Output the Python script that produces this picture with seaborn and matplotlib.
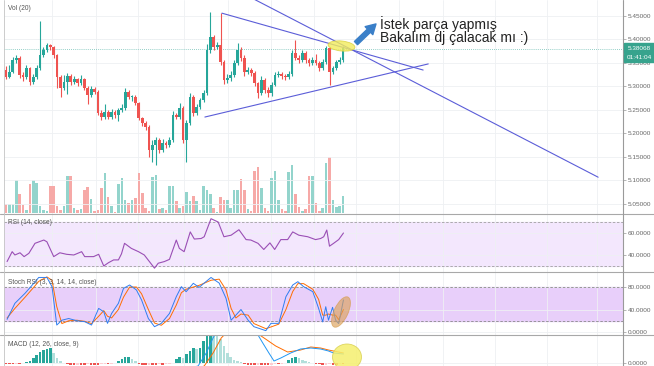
import numpy as np
import pandas as pd
import seaborn as sns
import matplotlib.pyplot as plt
from matplotlib.lines import Line2D
from matplotlib.patches import Ellipse, FancyArrowPatch, Rectangle

# ---- price candles (5 min bars) ----
first_open = 5.335
closes = [5.320, 5.331, 5.356, 5.361, 5.325, 5.320, 5.339, 5.310, 5.320, 5.339,
          5.367, 5.378, 5.388, 5.384, 5.367, 5.320, 5.297, 5.310, 5.322, 5.310,
          5.316, 5.307, 5.316, 5.297, 5.282, 5.295, 5.288, 5.244, 5.235, 5.246,
          5.235, 5.246, 5.239, 5.250, 5.254, 5.288, 5.278, 5.278, 5.265, 5.233,
          5.222, 5.214, 5.165, 5.176, 5.186, 5.165, 5.180, 5.176, 5.186, 5.239,
          5.235, 5.254, 5.186, 5.222, 5.278, 5.244, 5.256, 5.271, 5.286, 5.378,
          5.405, 5.384, 5.388, 5.352, 5.314, 5.318, 5.325, 5.350, 5.378, 5.361,
          5.331, 5.335, 5.329, 5.307, 5.286, 5.314, 5.293, 5.286, 5.303, 5.325,
          5.327, 5.322, 5.320, 5.327, 5.371, 5.361, 5.356, 5.371, 5.356, 5.350,
          5.356, 5.350, 5.339, 5.352, 5.382, 5.331, 5.339, 5.352, 5.356, 5.381]
highs = [5.343, 5.345, 5.362, 5.368, 5.364, 5.330, 5.346, 5.342, 5.326, 5.345,
         5.439, 5.384, 5.392, 5.391, 5.386, 5.370, 5.325, 5.324, 5.328, 5.326,
         5.322, 5.319, 5.325, 5.318, 5.300, 5.301, 5.299, 5.292, 5.250, 5.262,
         5.250, 5.252, 5.250, 5.255, 5.262, 5.297, 5.292, 5.282, 5.281, 5.268,
         5.236, 5.226, 5.218, 5.186, 5.192, 5.190, 5.188, 5.184, 5.192, 5.248,
         5.244, 5.265, 5.258, 5.228, 5.286, 5.281, 5.262, 5.276, 5.292, 5.390,
         5.459, 5.410, 5.395, 5.456, 5.356, 5.326, 5.332, 5.356, 5.392, 5.384,
         5.366, 5.341, 5.340, 5.333, 5.310, 5.322, 5.318, 5.298, 5.310, 5.331,
         5.334, 5.330, 5.326, 5.333, 5.378, 5.399, 5.366, 5.378, 5.375, 5.360,
         5.362, 5.370, 5.354, 5.358, 5.386, 5.385, 5.344, 5.357, 5.362, 5.386]
lows = [5.316, 5.318, 5.329, 5.350, 5.318, 5.312, 5.316, 5.303, 5.306, 5.316,
        5.336, 5.362, 5.374, 5.378, 5.360, 5.296, 5.277, 5.292, 5.285, 5.303,
        5.305, 5.300, 5.303, 5.292, 5.262, 5.278, 5.283, 5.240, 5.228, 5.231,
        5.230, 5.230, 5.233, 5.226, 5.246, 5.250, 5.273, 5.270, 5.260, 5.228,
        5.216, 5.208, 5.150, 5.140, 5.133, 5.158, 5.160, 5.170, 5.172, 5.182,
        5.230, 5.231, 5.180, 5.139, 5.218, 5.238, 5.240, 5.252, 5.266, 5.282,
        5.372, 5.378, 5.380, 5.346, 5.306, 5.308, 5.312, 5.320, 5.346, 5.354,
        5.322, 5.326, 5.322, 5.300, 5.276, 5.282, 5.286, 5.278, 5.280, 5.300,
        5.320, 5.316, 5.314, 5.316, 5.322, 5.356, 5.350, 5.352, 5.350, 5.344,
        5.346, 5.345, 5.333, 5.335, 5.348, 5.303, 5.326, 5.335, 5.348, 5.352]
volumes = [9, 9, 9, 33, 19, 8, 3, 29, 33, 30,
           7, 3, 2, 27, 27, 7, 3, 7, 37, 37,
           5, 3, 4, 23, 26, 14, 2, 3, 25, 40,
           16, 7, 1, 29, 35, 13, 10, 13, 15, 40,
           20, 5, 2, 36, 38, 4, 5, 3, 27, 27,
           12, 5, 7, 21, 12, 17, 12, 3, 27, 23,
           19, 5, 1, 16, 13, 13, 5, 23, 23, 34,
           23, 4, 2, 42, 46, 25, 5, 2, 35, 42,
           13, 4, 2, 41, 48, 19, 6, 2, 4, 37,
           37, 10, 2, 5, 50, 56, 13, 6, 7, 17]
last_price = 5.38068
price_ticks = [5.05, 5.10, 5.15, 5.20, 5.25, 5.30, 5.35, 5.40, 5.45]

# ---- RSI (14, close) ----
rsi_x = [0.3, 1.8, 2.6, 4.1, 5.3, 6.7, 8.5, 11.1, 12.0, 14.0,
         15.8, 17.8, 19.9, 22.2, 23.1, 25.7, 27.2, 28.7, 30.1, 31.6,
         33.0, 33.9, 34.8, 36.8, 38.9, 40.6, 42.1, 43.6, 44.7, 46.5,
         48.0, 50.0, 50.9, 52.3, 54.1, 55.3, 57.3, 58.2, 60.2, 62.3,
         64.0, 66.1, 68.4, 70.5, 71.9, 74.0, 75.7, 77.5, 78.9, 80.7,
         82.7, 84.2, 86.0, 88.6, 90.9, 92.4, 93.3, 94.2, 95.0, 96.2,
         97.7, 99.1]
rsi = [34, 43, 40, 42, 38.5, 41.5, 50.6, 53.6, 52, 38.5,
       42, 40.6, 40, 43, 38.5, 38.5, 40.6, 30, 33, 35.5,
       35.5, 41, 50.6, 46, 43, 40, 34, 28, 32.5, 34,
       36, 53.6, 46, 43, 61, 54.5, 55, 56.6, 73, 70,
       56.6, 58, 63, 54, 53.6, 50.6, 45, 51, 45, 54,
       54, 61, 58, 56.6, 54, 55, 56.6, 62.7, 48, 50.6,
       54, 60]

# ---- Stoch RSI (3, 3, 14, 14, close) ----
stoch_x = [0.3, 2.6, 5.6, 8.2, 9.6, 12.0, 13.5, 14.9, 16.4, 18.4,
           20.8, 23.1, 25.1, 27.2, 28.7, 29.8, 31.0, 33.0, 34.5, 36.3,
           38.3, 39.8, 41.8, 43.6, 45.6, 48.0, 50.0, 51.5, 52.9, 55.0,
           56.7, 60.2, 62.6, 64.6, 66.1, 67.5, 69.0, 71.1, 72.8, 76.3,
           77.8, 80.1, 82.2, 84.2, 85.7, 87.4, 90.1, 91.8, 93.0, 93.9,
           94.7, 95.9, 96.8, 97.7, 99.1]
stoch_k = [22.5, 51, 69, 87, 97, 97, 80.6, 12.4, 21, 24,
           20, 18.4, 12.4, 42, 36, 15.4, 33, 51, 77.6, 83.6,
           74.7, 57, 24, 9.5, 15.4, 33, 62.8, 80.6, 71.7, 86.6,
           79.4, 97, 87, 60, 21, 30, 40, 21, 9.5, 2.4,
           15.4, 15.4, 62.8, 83.6, 89.5, 80.6, 71.7, 42, 18, 45,
           21, 44, 21, 15, 57]
stoch_d = [25, 42, 62, 80, 90, 98, 92, 45, 15, 20,
           21, 19, 15, 28, 38, 28, 25, 40, 62, 80,
           80, 68, 40, 16, 12, 24, 48, 70, 76, 80,
           83, 92, 94, 75, 42, 25, 32, 30, 15, 6,
           9, 14, 40, 72, 86, 86, 76, 58, 30, 30,
           32, 30, 30, 22, 40]

# ---- MACD (12, 26, close, 9) ----
macd_hist = [-1, -1, -1, -0.5, -0.5, 0.5, 1, 2, 5, 8,
             11, 13, 14, 15, 10, 5, 2, 0.5, -1, -2,
             -2, -1.5, -2, -2, -1, -1.5, -2, -2, -1, -0.5,
             -1, -0.5, 0.5, 2, 4, 6, 6, 4, 2, -1,
             -2, -2, -1.5, -2, -2, -1, -1.5, -1, -0.5, 0.5,
             4, 6, 5, 9, 12, 15, 14, 15, 22, 28,
             33, 32, 30, 24, 17, 10, 6, 3, 2, 1,
             -1, -2, -2, -2, -1.5, -2, -2, -2, -1.5, -1,
             -1, -0.5, 0.5, 3, 5, 6, 5, 3, 2, 1,
             0.5, -1, -1, -2, -1.5, -1, -2, -2, -1, -1]
macd_x = [50, 54, 56.4, 58.8, 60.8, 62.6, 66, 70, 72.5, 74.0, 75.4,
          77.2, 78.7, 80.7, 83.6, 86.5, 89.5, 92.4, 94.7, 96.2, 99.1]
macd_line = [-8, -5, -3, 10, 25, 36, 42, 40, 34, 28, 20,
             10, 2, 5, 10, 14, 15, 14, 12, 10, 9]
signal_x = [50, 56, 58.2, 60.8, 63.2, 65.5, 70, 74.5, 79.2, 82.7, 86.5,
            89.5, 92.4, 94.7, 99.1]
signal_line = [-10, -6, -3, 10, 25, 33, 36, 28, 17, 11, 13,
               16, 15, 13, 10]

# drawn trend lines (bar index, price)
trend_lines = [([63.4, 122.5], [5.456, 5.335]),
               ([71.7, 173.9], [5.490, 5.107]),
               ([58.4, 124.0], [5.235, 5.348])]

# time grid (bar index)
grid_x = [13.5, 26.3, 38.9, 52.3, 65.2, 77.8, 90.4, 102.9, 115.5, 128.4, 143.6, 158.8, 173.7]

GREEN = '#26a69a'
RED = '#ef5350'
GRID = '#eef0f3'
TXT = '#666666'
XLIM = (-0.6, 181.2)

sns.set_theme(style="white")
plt.rcParams['font.family'] = ['Liberation Sans', 'DejaVu Sans']

W, H = 654, 366
fig = plt.figure(figsize=(W / 100, H / 100), dpi=100)
fig.patch.set_facecolor('white')


def rect(top, bottom, left=4, right=623):
    return [left / W, 1 - bottom / H, (right - left) / W, (bottom - top) / H]


def px(x, y):
    # pixel position -> inches for fig.dpi_scale_trans
    return x / 100, (H - y) / 100


ax_v = fig.add_axes(rect(0, 214))
ax_p = fig.add_axes(rect(0, 214))
ax_r = fig.add_axes(rect(214, 272))
ax_s = fig.add_axes(rect(272, 335))
ax_m = fig.add_axes(rect(335, 366))
ax_p.patch.set_alpha(0)

for ax in (ax_v, ax_p, ax_r, ax_s, ax_m):
    ax.set_xlim(*XLIM)
    ax.set_xticks(grid_x)
    ax.tick_params(axis='x', length=0, labelbottom=False)
    for s in ax.spines.values():
        s.set_visible(False)
    ax.yaxis.tick_right()
    ax.tick_params(axis='y', length=2, width=0.5, color='#999999', labelsize=4.6,
                   labelcolor=TXT, pad=1.5)

ax_v.grid(axis='x', color=GRID, lw=0.6)
ax_v.set_yticks([])
for ax in (ax_r, ax_s, ax_m):
    ax.grid(True, color=GRID, lw=0.6)
ax_p.grid(axis='y', color=GRID, lw=0.6)

# ---- candles + volume ----
df = pd.DataFrame({'open': [first_open] + closes[:-1], 'high': highs, 'low': lows,
                   'close': closes, 'volume': volumes})
df['i'] = np.arange(len(df))
up = (df['close'] >= df['open']).values
cols = np.where(up, GREEN, RED)

ax_v.bar(df['i'], df['volume'], width=0.75, color=np.where(up, '#93d4cc', '#f6a9a7'), linewidth=0)
ax_v.set_ylim(-1, 213)

ax_p.vlines(df['i'], df['low'], df['high'], colors=cols, linewidth=0.8, zorder=3)
body = (df['close'] - df['open']).abs().clip(lower=0.0022)
ax_p.bar(df['i'], body, bottom=np.minimum(df['open'], df['close']), width=0.8,
         color=cols, linewidth=0, zorder=4)
ax_p.axhline(last_price, color='#6fbfb4', lw=0.6, ls=(0, (1, 1.5)), zorder=2)
for xs, ys in trend_lines:
    ax_p.plot(xs, ys, color='#5b5dd8', lw=0.8, zorder=5)
ax_p.set_ylim(5.0287, 5.484)
ax_p.set_yticks(price_ticks)
ax_p.set_yticklabels([f'{t:.5f}' for t in price_ticks])

# ---- RSI ----
ax_r.axhspan(30, 70, color='#f3e7fd', zorder=0)
for lv in (30, 70):
    ax_r.axhline(lv, color='#a0a0a0', lw=0.6, ls=(0, (3, 2)))
sns.lineplot(x=rsi_x, y=rsi, ax=ax_r, color='#9a4fb5', lw=0.8, estimator=None, sort=False)
ax_r.set_ylim(24.5, 77.3)
ax_r.set_yticks([40, 60])
ax_r.set_yticklabels(['40.0000', '60.0000'])

# ---- Stoch RSI ----
ax_s.axhspan(20, 80, color='#e8cffa', zorder=0)
for lv in (20, 80):
    ax_s.axhline(lv, color='#8a8a8a', lw=0.6, ls=(0, (3, 2)))
sns.lineplot(x=stoch_x, y=stoch_d, ax=ax_s, color='#ff6d00', lw=0.7, estimator=None, sort=False)
sns.lineplot(x=stoch_x, y=stoch_k, ax=ax_s, color='#2f7ef0', lw=0.7, estimator=None, sort=False)
ax_s.set_ylim(-5.3, 106.7)
ax_s.set_yticks([0, 40, 80])
ax_s.set_yticklabels(['0.0000', '40.0000', '80.0000'])

# ---- MACD ----
hist = np.array(macd_hist, dtype=float)
prev = np.concatenate([[hist[0]], hist[:-1]])
hcols = np.where(hist >= 0, np.where(hist >= prev, GREEN, '#b2dfdb'),
                 np.where(hist <= prev, RED, '#ffcdd2'))
ax_m.bar(df['i'], hist, width=0.75, color=hcols, linewidth=0)
sns.lineplot(x=signal_x, y=signal_line, ax=ax_m, color='#ff6d00', lw=0.7, estimator=None, sort=False)
sns.lineplot(x=macd_x, y=macd_line, ax=ax_m, color='#2196f3', lw=0.7, estimator=None, sort=False)
ax_m.set_ylim(-3, 28)
ax_m.set_yticks([0])
ax_m.set_yticklabels(['0.0000'])

for ax in (ax_r, ax_s, ax_m):
    ax.set_xlim(*XLIM)
    ax.set_xlabel('')
    ax.set_ylabel('')

# ---- pane labels ----
lab = dict(fontsize=4.8, color='#555555', va='center', ha='left')
fig.text(8 / W, 1 - 8 / H, 'Vol (20)', **lab)
fig.text(8 / W, 1 - 223 / H, 'RSI (14, close)', **lab)
fig.text(8 / W, 1 - 282 / H, 'Stoch RSI (3, 3, 14, 14, close)', **lab)
fig.text(8 / W, 1 - 344 / H, 'MACD (12, 26, close, 9)', **lab)

# ---- frame lines ----
for y in (214, 272, 335):
    fig.add_artist(Line2D([0, 1], [1 - y / H] * 2, transform=fig.transFigure, color='#a8a8a8', lw=0.8))
fig.add_artist(Line2D([623 / W] * 2, [0, 1], transform=fig.transFigure, color='#9a9a9a', lw=0.8))
fig.add_artist(Line2D([4 / W] * 2, [0, 1], transform=fig.transFigure, color='#c4c4c4', lw=0.6))

# ---- last price + countdown boxes ----
for top, bot, txt in ((43, 53, f'{last_price:.5f}'), (53.5, 62, '01:41:04')):
    fig.add_artist(Rectangle((624 / W, 1 - bot / H), 30 / W, (bot - top) / H,
                             transform=fig.transFigure, color='#37a38d', zorder=10))
    fig.text(639 / W, 1 - (top + bot) / 2 / H, txt, fontsize=4.6, color='white',
             ha='center', va='center', zorder=11)

# ---- hand drawings ----
t = fig.dpi_scale_trans
fig.add_artist(Ellipse(px(341.5, 46), 0.27, 0.10, angle=-6, transform=t,
                       facecolor='#f2ec5c', edgecolor='#d8ce3a', lw=0.6, alpha=0.8, zorder=6))
fig.add_artist(FancyArrowPatch(px(354, 45), px(378, 22), transform=t, mutation_scale=1,
                               arrowstyle='simple,head_length=7,head_width=8,tail_width=3.2',
                               color='#3a7fc8', zorder=7))
fig.add_artist(Ellipse(px(341, 312), 0.14, 0.33, angle=-25, transform=t,
                       facecolor='#dba15a', edgecolor='#d49a48', lw=0.6, alpha=0.65, zorder=6))
fig.add_artist(Ellipse(px(347, 357), 0.29, 0.26, angle=0, transform=t,
                       facecolor='#f5ef6e', edgecolor='#d8cf50', lw=0.6, alpha=0.85, zorder=6))

note = dict(fontsize=10, color='#222222', ha='left', va='baseline')
fig.text(380 / W, 1 - 29 / H, 'İstek parça yapmış', **note)
fig.text(380 / W, 1 - 42 / H, 'Bakalım dj çalacak mı :)', **note)

fig.savefig('out.png', dpi=100)
